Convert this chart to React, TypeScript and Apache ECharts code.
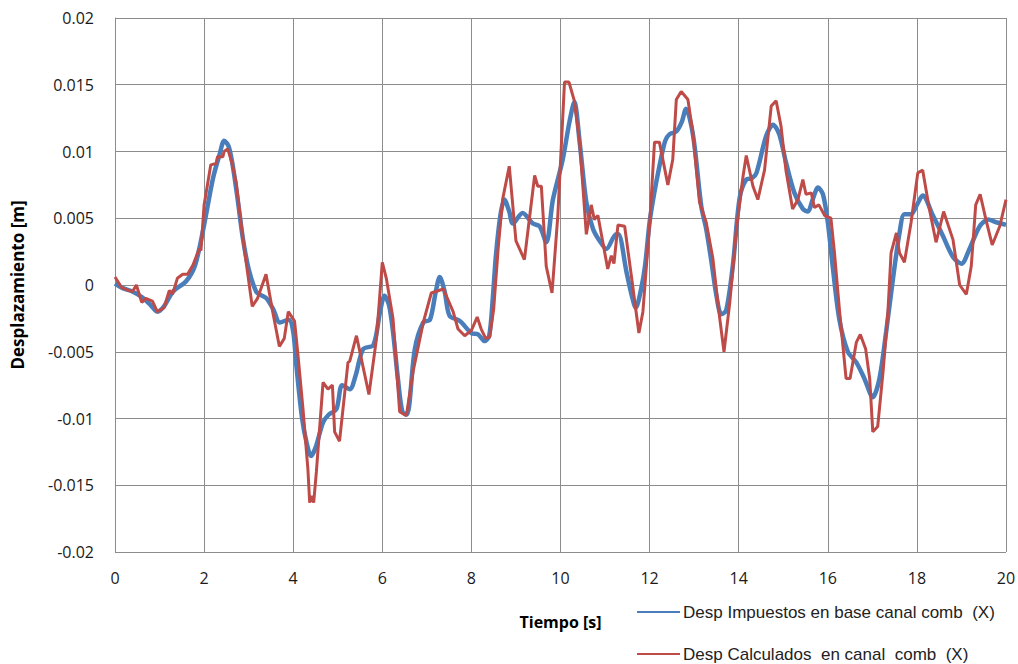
import React, { useEffect, useRef } from "react";
import * as echarts from "echarts";

const xTicks = [0, 2, 4, 6, 8, 10, 12, 14, 16, 18, 20];
const yTicks = [-0.02, -0.015, -0.01, -0.005, 0, 0.005, 0.01, 0.015, 0.02];

const seriesNames = [
  "Desp Impuestos en base canal comb  (X)",
  "Desp Calculados  en canal  comb  (X)",
];

const impuestosT = [
  0, 0.15, 0.4, 0.6, 0.8, 0.95, 1.1, 1.3, 1.6, 1.8, 2.0, 2.2, 2.35, 2.45, 2.55, 2.64, 2.75, 2.87, 3.0, 3.17,
  3.3, 3.4, 3.55, 3.7, 3.9, 4.0, 4.07, 4.2, 4.3, 4.4, 4.5, 4.67, 4.8, 4.97, 5.1, 5.27, 5.4, 5.57, 5.8, 5.95,
  6.05, 6.15, 6.24, 6.35, 6.45, 6.55, 6.73, 6.92, 7.07, 7.2, 7.29, 7.4, 7.51, 7.74, 8.0, 8.15, 8.3, 8.4, 8.48, 8.55,
  8.65, 8.74, 8.85, 8.93, 9.15, 9.38, 9.53, 9.68, 9.83, 10.05, 10.2, 10.31, 10.43, 10.58, 10.73, 10.88, 11.03, 11.25, 11.3, 11.48,
  11.6, 11.69, 11.81, 11.9, 12.0, 12.1, 12.22, 12.35, 12.45, 12.6, 12.72, 12.82, 12.92, 13.01, 13.16, 13.27, 13.39, 13.5, 13.61, 13.72,
  13.87, 14.02, 14.17, 14.3, 14.4, 14.62, 14.77, 14.91, 15.06, 15.25, 15.44, 15.55, 15.66, 15.78, 15.89, 16.0, 16.11, 16.26, 16.45, 16.64,
  16.82, 17.01, 17.16, 17.31, 17.46, 17.61, 17.72, 17.87, 18.0, 18.13, 18.36, 18.58, 18.81, 19.0, 19.18, 19.41, 19.6, 19.78, 20.0,
];
const impuestosV = [
  0.0001, -0.0002, -0.0005, -0.0009, -0.0015, -0.002, -0.0016, -0.0005, 0.0003, 0.0015, 0.0045, 0.008, 0.0098, 0.0108, 0.0104, 0.009, 0.0065, 0.0035, 0.0012, -0.0005,
  -0.0008, -0.001, -0.0018, -0.0028, -0.0026, -0.0035, -0.006, -0.01, -0.0118, -0.0128, -0.0122, -0.0103, -0.0097, -0.0093, -0.0075, -0.0078, -0.0068, -0.0048, -0.0045, -0.002,
  -0.0008, -0.0015, -0.0035, -0.007, -0.0095, -0.0097, -0.0048, -0.0028, -0.0026, -0.0005, 0.0006, -0.0005, -0.0023, -0.0027, -0.0036, -0.0037, -0.0042, -0.0038, -0.001, 0.0022,
  0.0052, 0.0064, 0.0055, 0.0046, 0.0054, 0.0046, 0.0044, 0.0032, 0.0064, 0.0094, 0.0122, 0.0137, 0.0107, 0.0062, 0.0042, 0.0033, 0.0027, 0.0038, 0.0038, 0.001,
  -0.0008, -0.0017, -0.0003, 0.0015, 0.0047, 0.0068, 0.0089, 0.0108, 0.0113, 0.0115, 0.0122, 0.0132, 0.0122, 0.0104, 0.0059, 0.0042, 0.0017, -0.0008, -0.0022, -0.0019,
  0.0015, 0.0065, 0.0079, 0.008, 0.0084, 0.0112, 0.012, 0.0113, 0.0092, 0.0069, 0.0057, 0.0055, 0.0064, 0.0073, 0.0068, 0.0047, 0.0014, -0.0026, -0.005, -0.0058,
  -0.007, -0.0084, -0.007, -0.0035, 0.0004, 0.0039, 0.0053, 0.0053, 0.006, 0.0067, 0.0052, 0.0037, 0.0021, 0.0016, 0.0027, 0.0044, 0.0049, 0.0047, 0.0045,
];

const calculadosT = [
  0, 0.15, 0.3, 0.39, 0.48, 0.6, 0.69, 0.84, 0.95, 1.1, 1.22, 1.29, 1.4, 1.52, 1.63, 1.75, 1.89, 1.93, 2.0, 2.15,
  2.27, 2.3, 2.42, 2.45, 2.53, 2.62, 2.72, 2.87, 3.08, 3.2, 3.39, 3.54, 3.69, 3.8, 3.89, 4.03, 4.1, 4.22, 4.33, 4.37,
  4.42, 4.46, 4.52, 4.67, 4.78, 4.88, 4.93, 5.04, 5.23, 5.27, 5.42, 5.7, 5.87, 6.0, 6.09, 6.24, 6.39, 6.54, 6.69, 6.92,
  7.1, 7.37, 7.59, 7.7, 7.85, 8.0, 8.13, 8.22, 8.32, 8.41, 8.5, 8.6, 8.7, 8.85, 9.0, 9.19, 9.42, 9.49, 9.57, 9.68,
  9.81, 9.94, 10.09, 10.19, 10.31, 10.43, 10.58, 10.69, 10.76, 10.84, 11.06, 11.14, 11.2, 11.29, 11.44, 11.59, 11.76, 11.85, 12.01, 12.11,
  12.22, 12.41, 12.52, 12.6, 12.71, 12.86, 12.97, 13.12, 13.27, 13.42, 13.54, 13.67, 13.8, 13.95, 14.1, 14.17, 14.32, 14.43, 14.58, 14.73,
  14.84, 14.95, 15.06, 15.21, 15.33, 15.44, 15.51, 15.63, 15.7, 15.8, 15.93, 16.07, 16.15, 16.26, 16.41, 16.5, 16.64, 16.73, 16.85, 16.94,
  17.01, 17.12, 17.24, 17.35, 17.42, 17.54, 17.61, 17.72, 17.87, 18.02, 18.13, 18.28, 18.43, 18.6, 18.81, 18.96, 19.11, 19.22, 19.32, 19.42,
  19.55, 19.69, 19.86, 20.0,
];
const calculadosV = [
  0.0006, -0.0002, -0.0004, -0.0005, 0, -0.0013, -0.001, -0.0012, -0.002, -0.0017, -0.0004, -0.0007, 0.0005, 0.0008, 0.0008, 0.0015, 0.0027, 0.0026, 0.006, 0.009,
  0.0091, 0.0096, 0.0096, 0.01, 0.0102, 0.0092, 0.0077, 0.0035, -0.0016, -0.001, 0.0008, -0.002, -0.0046, -0.004, -0.002, -0.0027, -0.005, -0.0093, -0.0138, -0.0163,
  -0.0158, -0.0163, -0.014, -0.0073, -0.0078, -0.0075, -0.011, -0.0117, -0.0058, -0.0057, -0.0038, -0.0082, -0.004, 0.0017, 0.0005, -0.0025, -0.0095, -0.0098, -0.0065, -0.0028,
  -0.0006, -0.0003, -0.002, -0.0033, -0.0038, -0.0034, -0.0024, -0.0033, -0.004, -0.0039, -0.0018, 0.0027, 0.0064, 0.0089, 0.0033, 0.0019, 0.0082, 0.0074, 0.0074, 0.0014,
  -0.0006, 0.0052, 0.0152, 0.0152, 0.0138, 0.0107, 0.0038, 0.006, 0.0049, 0.0052, 0.0012, 0.0022, 0.0016, 0.0045, 0.0044, 0.0007, -0.0036, -0.002, 0.005, 0.0107,
  0.0107, 0.0075, 0.0094, 0.0139, 0.0145, 0.0139, 0.0114, 0.0062, 0.0047, 0.002, -0.0016, -0.005, -0.0013, 0.0042, 0.0082, 0.0097, 0.0074, 0.0064, 0.0086, 0.0134,
  0.0138, 0.0119, 0.0086, 0.0057, 0.0064, 0.0079, 0.0068, 0.0069, 0.0058, 0.006, 0.0052, 0.005, 0.0024, -0.0018, -0.007, -0.007, -0.0043, -0.0037, -0.0048, -0.007,
  -0.011, -0.0106, -0.0065, -0.002, 0.0024, 0.0039, 0.0024, 0.0017, 0.0047, 0.0084, 0.0086, 0.0057, 0.0032, 0.0055, 0.0034, 0, -0.0007, 0.0014, 0.006, 0.0068,
  0.0049, 0.003, 0.0044, 0.0064,
];

const pair = (t: number[], v: number[]) => t.map((x, i) => [x, v[i]]);

export default function App() {
  const ref = useRef<HTMLDivElement>(null);
  useEffect(() => {
    if (!ref.current) return;
    const chart = echarts.init(ref.current, undefined, { renderer: "svg" });
    const labelFont = { fontFamily: "Open Sans", fontSize: 16, color: "#1a1a1a" };
    const legendBase = {
      orient: "horizontal",
      left: 637,
      padding: 0,
      itemWidth: 43,
      itemHeight: 2,
      icon: "rect",
      textStyle: { fontFamily: "Liberation Sans", fontSize: 17, lineHeight: 20, color: "#222", padding: [0, 0, 0, -2] },
    };
    chart.setOption({
      animation: false,
      backgroundColor: "#ffffff",
      grid: { left: 115, right: 12, top: 18, bottom: 112, containLabel: false, outerBoundsMode: "none" },
      xAxis: {
        type: "value",
        min: 0,
        max: 20,
        interval: 2,
        name: "Tiempo [s]",
        nameLocation: "middle",
        nameGap: 62,
        nameTextStyle: { fontFamily: "Open Sans", fontWeight: "bold", fontSize: 16, color: "#000" },
        axisLine: { show: true, lineStyle: { color: "#8c8c8c", width: 1 } },
        axisTick: { show: false },
        splitLine: { show: true, lineStyle: { color: "#8c8c8c", width: 1 } },
        axisLabel: { ...labelFont, margin: 18, formatter: (v: number) => (xTicks.includes(v) ? String(v) : "") },
      },
      yAxis: {
        type: "value",
        min: -0.02,
        max: 0.02,
        interval: 0.005,
        name: "Desplazamiento [m]",
        nameLocation: "middle",
        nameGap: 89,
        nameRotate: 90,
        nameTextStyle: { fontFamily: "Open Sans", fontWeight: "bold", fontSize: 17, color: "#000" },
        axisLine: { show: true, lineStyle: { color: "#8c8c8c", width: 1 } },
        axisTick: { show: false },
        splitLine: { show: true, lineStyle: { color: "#8c8c8c", width: 1 } },
        axisLabel: {
          ...labelFont,
          margin: 21,
          formatter: (v: number) => {
            const t = yTicks.find((y) => Math.abs(y - v) < 1e-9);
            if (t === undefined) return "";
            return Math.abs(t) < 1e-12 ? "0" : String(t);
          },
        },
      },
      legend: [
        { ...legendBase, top: 602, data: [seriesNames[0]] },
        { ...legendBase, top: 644, data: [seriesNames[1]] },
      ],
      series: [
        {
          name: seriesNames[0],
          type: "line",
          data: pair(impuestosT, impuestosV),
          showSymbol: false,
          smooth: 0.3,
          lineStyle: { color: "#4a7ebb", width: 4.5 },
          itemStyle: { color: "#4a7ebb" },
        },
        {
          name: seriesNames[1],
          type: "line",
          data: pair(calculadosT, calculadosV),
          showSymbol: false,
          lineStyle: { color: "#be4b48", width: 3 },
          itemStyle: { color: "#be4b48" },
        },
      ],
    });
    return () => chart.dispose();
  }, []);
  return <div ref={ref} style={{ width: 1018, height: 664, position: "absolute", left: 0, top: 0 }} />;
}
